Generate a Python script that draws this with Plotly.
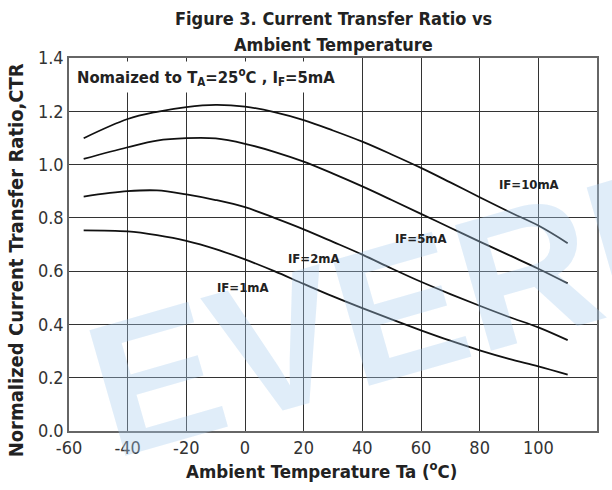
import plotly.graph_objects as go

temps = [-55, -40, -30, -20, -10, 0, 10, 20, 30, 40, 50, 60, 70, 80, 90, 100, 110]
ctr_10ma = [1.099, 1.171, 1.198, 1.216, 1.224, 1.2175, 1.197, 1.167, 1.128, 1.086, 1.038, 0.9875, 0.933, 0.8775, 0.823, 0.771, 0.705]
ctr_5ma = [1.021, 1.065, 1.09, 1.099, 1.098, 1.078, 1.048, 1.011, 0.966, 0.918, 0.867, 0.815, 0.763, 0.711, 0.66, 0.609, 0.554]
ctr_2ma = [0.88, 0.90, 0.903, 0.888, 0.867, 0.84, 0.80, 0.757, 0.71, 0.662, 0.61, 0.56, 0.514, 0.47, 0.428, 0.389, 0.341]
ctr_1ma = [0.753, 0.749, 0.735, 0.714, 0.683, 0.644, 0.60, 0.552, 0.505, 0.461, 0.419, 0.378, 0.339, 0.303, 0.271, 0.243, 0.212]

series_names = ["IF=10mA", "IF=5mA", "IF=2mA", "IF=1mA"]
series_values = [ctr_10ma, ctr_5ma, ctr_2ma, ctr_1ma]
label_x = [96.7, 60, 23.6, -0.7]
label_y = [0.924, 0.724, 0.648, 0.539]

x_ticks = [-60, -40, -20, 0, 20, 40, 60, 80, 100, 120]
x_tick_text = ["-60", "-40", "-20", "0", "20", "40", "60", "80", "100", "120"]
y_ticks = [0.0, 0.2, 0.4, 0.6, 0.8, 1.0, 1.2, 1.4]
y_tick_text = ["0.0", "0.2", "0.4", "0.6", "0.8", "1.0", "1.2", "1.4"]

NARROW = "Liberation Sans Narrow, Arial Narrow, DejaVu Sans Condensed, Liberation Sans, Arial, sans-serif"

fig = go.Figure()
for name, vals in zip(series_names, series_values):
    fig.add_trace(go.Scatter(x=temps, y=vals, mode="lines", name=name,
                             line=dict(color="#111111", width=1.8, shape="spline", smoothing=1.0),
                             showlegend=False))

annotations = []
# watermark
annotations.append(dict(text="<b>EVERLIGHT</b>", xref="paper", yref="paper", x=1.038, y=0.496,
                        xanchor="center", yanchor="middle", showarrow=False, textangle=-16,
                        font=dict(family="Liberation Sans, Arial", size=190, color="rgba(170,205,238,0.36)")))
for name, lx, ly in zip(series_names, label_x, label_y):
    annotations.append(dict(text="<b>" + name + "</b>", x=lx, y=ly, xref="x", yref="y",
                            showarrow=False, font=dict(family=NARROW, size=13, color="#222222")))
annotations.append(dict(text="<b>Nomaized to T<sub>A</sub>=25<sup>o</sup>C , I<sub>F</sub>=5mA</b>",
                        xref="paper", yref="y", x=0.008, y=1.327, xanchor="left", yanchor="middle",
                        showarrow=False, bgcolor="white", borderpad=3,
                        font=dict(family=NARROW, size=16.5, color="#222222")))
# title lines
annotations.append(dict(text="<b>Figure 3. Current Transfer Ratio vs</b>", xref="paper", yref="paper",
                        x=0.5, y=1.107, xanchor="center", yanchor="middle", showarrow=False,
                        font=dict(family=NARROW, size=18, color="#222222")))
annotations.append(dict(text="<b>Ambient Temperature</b>", xref="paper", yref="paper",
                        x=0.5, y=1.0375, xanchor="center", yanchor="middle", showarrow=False,
                        font=dict(family=NARROW, size=18, color="#222222")))
# axis titles
annotations.append(dict(text="<b>Ambient Temperature Ta (<sup>o</sup>C)</b>", xref="paper", yref="paper",
                        x=0.479, y=-0.104, xanchor="center", yanchor="middle", showarrow=False,
                        font=dict(family=NARROW, size=18.5, color="#222222")))
annotations.append(dict(text="<b>Normalized Current Transfer Ratio,CTR</b>", xref="paper", yref="paper",
                        x=-0.100, y=0.458, xanchor="center", yanchor="middle", showarrow=False,
                        textangle=-90, font=dict(family=NARROW, size=20, color="#222222")))

fig.update_layout(
    width=612, height=490,
    margin=dict(l=69, r=15, t=58, b=59),
    paper_bgcolor="white", plot_bgcolor="rgba(0,0,0,0)",
    annotations=annotations,
    font=dict(family=NARROW, color="#333333"),
)
fig.update_xaxes(range=[-60, 120], tickvals=x_ticks, ticktext=x_tick_text, ticks="", showgrid=True,
                 gridcolor="#333333", gridwidth=1, zeroline=False,
                 showline=True, linecolor="#666666", linewidth=1.5, mirror=True,
                 tickfont=dict(family=NARROW, size=18, color="#333333"))
fig.update_yaxes(range=[0, 1.4], tickvals=y_ticks, ticktext=y_tick_text, ticks="", showgrid=True,
                 gridcolor="#333333", gridwidth=1, zeroline=False,
                 showline=True, linecolor="#666666", linewidth=1.5, mirror=True,
                 tickfont=dict(family=NARROW, size=18, color="#333333"))

fig.write_html("out.html")
